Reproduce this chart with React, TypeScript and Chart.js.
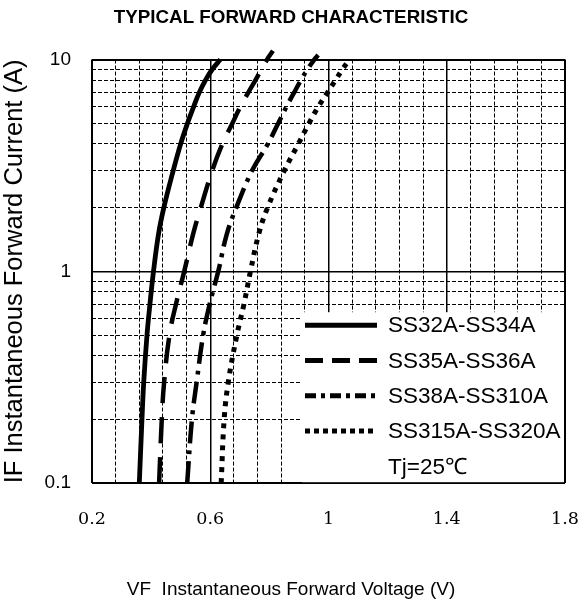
import React, { useEffect, useRef } from 'react';
import { Chart, registerables } from 'chart.js';

Chart.register(...registerables);

// ---------- text ----------
const chartTitle = 'TYPICAL FORWARD CHARACTERISTIC';
const xAxisTitle = 'VF  Instantaneous Forward Voltage (V)';
const yAxisTitle = 'IF Instantaneous Forward Current (A)';
const seriesNames = ['SS32A-SS34A', 'SS35A-SS36A', 'SS38A-SS310A', 'SS315A-SS320A'];
const noteText = 'Tj=25℃';

// ---------- axes ----------
const xMajorTicks = [0.2, 0.6, 1, 1.4, 1.8];
const xTickLabels = ['0.2', '0.6', '1', '1.4', '1.8'];
const xMinorDivisions = 5;
const yDecades = [0.1, 1, 10];
const yTickLabels = ['0.1', '1', '10'];

// ---------- data (IF in A, VF in V) ----------
const current1 = [0.1, 0.2, 0.3, 0.5, 0.7, 1, 1.5, 2, 3, 4, 5, 6, 7, 8, 9, 10];
const voltage1 = [0.36, 0.369, 0.375, 0.386, 0.396, 0.408, 0.425, 0.443, 0.475, 0.5, 0.523, 0.544, 0.563, 0.584, 0.607, 0.634];

const current2 = [0.1, 0.2, 0.3, 0.5, 0.7, 1, 1.5, 2, 3, 4, 5, 6, 7, 8, 10, 11];
const voltage2 = [0.427, 0.436, 0.444, 0.462, 0.484, 0.512, 0.542, 0.568, 0.607, 0.641, 0.675, 0.702, 0.729, 0.753, 0.792, 0.812];

const current3 = [0.1, 0.2, 0.3, 0.5, 0.7, 1, 1.5, 2, 3, 4, 5, 6, 7, 8, 9, 10, 10.5];
const voltage3 = [0.522, 0.538, 0.554, 0.576, 0.598, 0.627, 0.656, 0.688, 0.742, 0.795, 0.83, 0.858, 0.884, 0.907, 0.929, 0.952, 0.965];

const current4 = [0.1, 0.2, 0.3, 0.5, 0.7, 1, 1.5, 2, 3, 4, 5, 6, 7, 8, 9, 10];
const voltage4 = [0.637, 0.647, 0.661, 0.69, 0.714, 0.736, 0.764, 0.794, 0.851, 0.898, 0.934, 0.966, 0.997, 1.024, 1.047, 1.071];

const seriesVoltages = [voltage1, voltage2, voltage3, voltage4];
const seriesCurrents = [current1, current2, current3, current4];

// ---------- styles ----------
const SANS = '"Liberation Sans", Arial, Helvetica, sans-serif';
const SERIF = '"DejaVu Serif", "Liberation Serif", serif';
const WIDTH = 582;
const HEIGHT = 605;
const lineWidths = [4.8, 4.5, 4.5, 5];
const lineDashes: number[][] = [[], [26, 14], [22, 7, 4, 7], [5, 6]];
const legendDashes: number[][] = [[], [18, 9], [11, 5, 4, 5], [5, 4]];

const roundV = (v: number) => parseFloat(v.toPrecision(8));

const xGridValues: number[] = (() => {
  const out: number[] = [];
  for (let i = 0; i < xMajorTicks.length - 1; i++) {
    const a = xMajorTicks[i];
    const b = xMajorTicks[i + 1];
    for (let k = 0; k < xMinorDivisions; k++) out.push(roundV(a + ((b - a) * k) / xMinorDivisions));
  }
  out.push(xMajorTicks[xMajorTicks.length - 1]);
  return out;
})();

const yGridValues: number[] = (() => {
  const out: number[] = [];
  for (let i = 0; i < yDecades.length - 1; i++) {
    for (let k = 1; k <= 9; k++) out.push(roundV(yDecades[i] * k));
  }
  out.push(yDecades[yDecades.length - 1]);
  return out;
})();

const findIndex = (arr: number[], v: number) => arr.findIndex((m) => Math.abs(m - v) < 1e-6);

const legendPlugin = {
  id: 'boxLegend',
  beforeDatasetsDraw(chart: any) {
    const { ctx, chartArea } = chart;
    const boxLeft = chartArea.right - 263;
    const boxTop = chartArea.bottom - 171;
    ctx.save();
    ctx.fillStyle = '#fff';
    ctx.fillRect(boxLeft, boxTop, chartArea.right - 1 - boxLeft, chartArea.bottom - 1 - boxTop);
    const rowTop = boxTop + 13;
    const rowGap = 35.3;
    ctx.font = `22.5px ${SANS}`;
    ctx.textBaseline = 'middle';
    ctx.textAlign = 'left';
    ctx.fillStyle = '#000';
    seriesNames.forEach((name, i) => {
      const y = rowTop + i * rowGap;
      ctx.save();
      ctx.strokeStyle = '#000';
      ctx.lineWidth = 5;
      ctx.lineCap = 'butt';
      ctx.setLineDash(legendDashes[i]);
      ctx.beginPath();
      ctx.moveTo(boxLeft + 3, y);
      ctx.lineTo(boxLeft + 75, y);
      ctx.stroke();
      ctx.restore();
      ctx.fillText(name, boxLeft + 86, y + 1);
    });
    ctx.fillText(noteText, boxLeft + 86, rowTop + seriesNames.length * rowGap + 1);
    ctx.restore();
  },
};

export default function App() {
  const canvasRef = useRef<HTMLCanvasElement | null>(null);

  useEffect(() => {
    if (!canvasRef.current) return;
    const datasets = seriesNames.map((name, i) => ({
      label: name,
      data: seriesVoltages[i].map((v, j) => ({ x: v, y: seriesCurrents[i][j] })),
      borderColor: '#000',
      backgroundColor: '#000',
      borderWidth: lineWidths[i],
      borderDash: lineDashes[i],
      borderCapStyle: 'butt' as const,
      pointRadius: 0,
      tension: 0.4,
      fill: false,
      clip: false as const,
    }));

    const chart = new Chart(canvasRef.current, {
      type: 'line',
      data: { datasets },
      plugins: [legendPlugin],
      options: {
        animation: false,
        responsive: false,
        layout: { padding: 0 },
        plugins: {
          legend: { display: false },
          tooltip: { enabled: false },
          title: {
            display: true,
            text: chartTitle,
            color: '#000',
            font: { family: SANS, size: 18.8, weight: 'bold' },
            padding: { top: 7, bottom: 30 },
          },
          subtitle: {
            display: true,
            position: 'bottom',
            text: xAxisTitle,
            color: '#000',
            font: { family: SANS, size: 19, weight: 'normal' },
            padding: { top: 0, bottom: 4 },
          },
        },
        scales: {
          x: {
            type: 'linear',
            min: xMajorTicks[0],
            max: xMajorTicks[xMajorTicks.length - 1],
            afterBuildTicks: (s: any) => {
              s.ticks = xGridValues.map((v) => ({ value: v }));
            },
            afterFit: (s: any) => {
              s.height = 95;
              s.paddingLeft = 0;
              s.paddingRight = 17;
            },
            grid: {
              drawTicks: false,
              color: '#000',
              lineWidth: (c: any) => {
                const v = c.tick ? c.tick.value : 0;
                const mi = findIndex(xMajorTicks, v);
                if (mi === 0 || mi === xMajorTicks.length - 1) return 2;
                return mi >= 0 ? 1.5 : 1;
              },
            },
            border: {
              display: false,
              dash: (c: any) => {
                const v = c.tick ? c.tick.value : 0;
                return findIndex(xMajorTicks, v) >= 0 ? [] : [4, 2];
              },
            },
            ticks: {
              autoSkip: false,
              maxRotation: 0,
              padding: 26,
              color: '#000',
              font: { family: SERIF, size: 17.5 },
              callback: (v: any) => {
                const i = findIndex(xMajorTicks, Number(v));
                return i >= 0 ? xTickLabels[i] : '';
              },
            },
          },
          y: {
            type: 'logarithmic',
            min: yDecades[0],
            max: yDecades[yDecades.length - 1],
            afterBuildTicks: (s: any) => {
              s.ticks = yGridValues.map((v) => ({ value: v }));
            },
            afterFit: (s: any) => {
              s.width = 92;
              s.paddingTop = 0;
              s.paddingBottom = 0;
            },
            grid: {
              drawTicks: false,
              color: '#000',
              lineWidth: (c: any) => {
                const v = c.tick ? c.tick.value : 0;
                const mi = findIndex(yDecades, v);
                if (mi === 0 || mi === yDecades.length - 1) return 2;
                return mi >= 0 ? 1.5 : 1;
              },
            },
            border: {
              display: false,
              dash: (c: any) => {
                const v = c.tick ? c.tick.value : 0;
                return findIndex(yDecades, v) >= 0 ? [] : [4, 2];
              },
            },
            ticks: {
              autoSkip: false,
              padding: 21,
              color: '#000',
              font: { family: SANS, size: 19 },
              callback: (v: any) => {
                const i = findIndex(yDecades, Number(v));
                return i >= 0 ? yTickLabels[i] : '';
              },
            },
            title: {
              display: true,
              text: yAxisTitle,
              color: '#000',
              font: { family: SANS, size: 25.5 },
              padding: { top: 0, bottom: 0 },
            },
          },
        },
      } as any,
    });
    return () => chart.destroy();
  }, []);

  return (
    <div style={{ position: 'fixed', left: 0, top: 0, width: WIDTH, height: HEIGHT, background: '#fff' }}>
      <canvas ref={canvasRef} width={WIDTH} height={HEIGHT} style={{ width: WIDTH, height: HEIGHT, display: 'block' }} />
    </div>
  );
}
